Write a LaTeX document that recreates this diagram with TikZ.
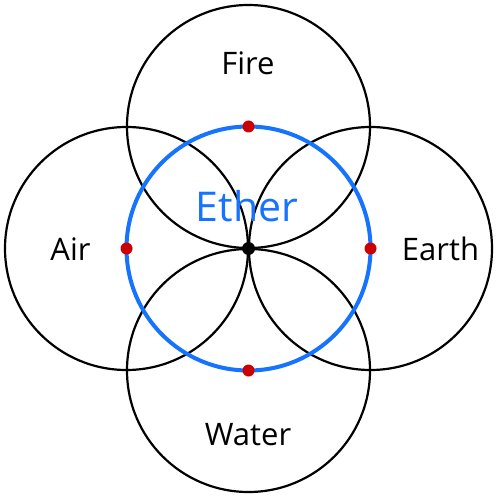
\documentclass[tikz,border=0pt]{standalone}
\usepackage{fontspec}
\setmainfont{Open Sans}
\definecolor{etherblue}{RGB}{21,115,255}
\definecolor{dotred}{RGB}{204,0,0}
\begin{document}
\begin{tikzpicture}[x=1bp,y=-1bp,
  elem/.style={draw=black,line width=2.2bp},
  ether/.style={draw=etherblue,line width=4bp},
  reddot/.style={circle,fill=dotred,inner sep=0pt,minimum size=12bp},
  blackdot/.style={circle,fill=black,inner sep=0pt,minimum size=13bp},
  lbl/.style={anchor=base,inner sep=0pt,font=\fontsize{31bp}{36bp}\selectfont},
  etherlbl/.style={anchor=base,inner sep=0pt,text=etherblue,font=\fontsize{41bp}{46bp}\selectfont}]
\useasboundingbox (0,0) rectangle (499,498);
\coordinate (C) at (248.5,248.5);
\coordinate (F) at (248.5,126.5);
\coordinate (A) at (126.5,248.5);
\coordinate (E) at (370.5,248.5);
\coordinate (W) at (248.5,370.5);
\draw[elem] (F) circle[radius=121.5];
\draw[elem] (A) circle[radius=121.5];
\draw[elem] (E) circle[radius=121.5];
\draw[elem] (W) circle[radius=121.5];
\draw[ether] (C) circle[radius=122];
\node[reddot] (rf) at (F) {};
\node[reddot] (ra) at (A) {};
\node[reddot] (re) at (E) {};
\node[reddot] (rw) at (W) {};
\node[blackdot] (bc) at (C) {};
\node[lbl] (fire) at (248,75) {Fire};
\node[lbl] (air) at (70.5,260) {Air};
\node[lbl] (earth) at (440.5,260) {Earth};
\node[lbl] (water) at (248,445) {Water};
\node[etherlbl] (etherl) at (247,221) {Ether};
\end{tikzpicture}
\end{document}
